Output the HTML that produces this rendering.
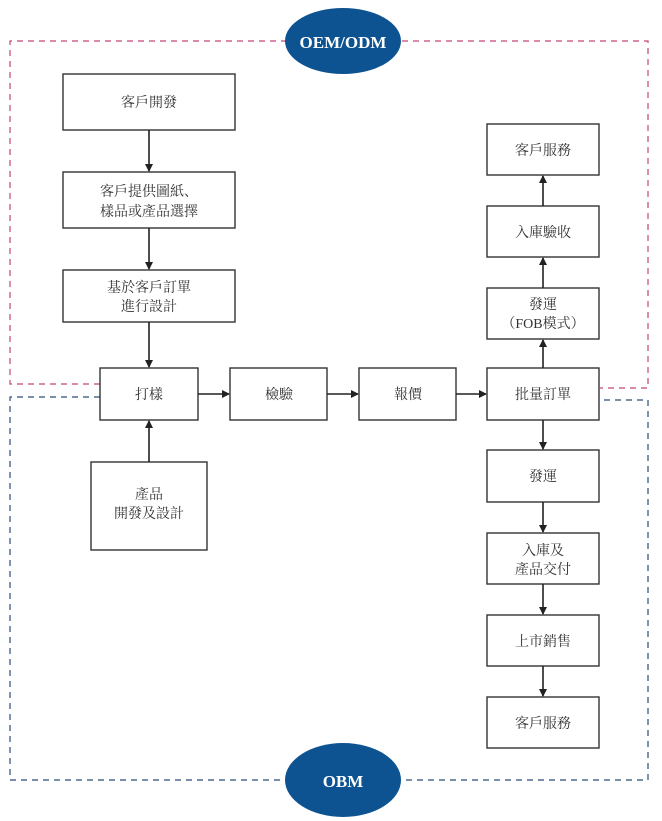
<!DOCTYPE html>
<html><head><meta charset="utf-8"><style>
html,body{margin:0;padding:0;background:#fff;}
svg{display:block;}
text{font-family:"Liberation Serif","Noto Serif CJK SC",serif;font-size:14px;fill:#333;text-anchor:middle;}
.b{fill:#fff;stroke:#333;stroke-width:1.4;}
.l{stroke:#222;stroke-width:1.6;fill:none;}
</style></head><body>
<svg width="662" height="821" viewBox="0 0 662 821" xmlns="http://www.w3.org/2000/svg">
<defs><marker id="a" markerWidth="8" markerHeight="8" refX="7" refY="4" orient="auto" markerUnits="userSpaceOnUse"><path d="M0,0 L8,4 L0,8 z" fill="#222"/></marker></defs>
<!-- pink dashed -->
<path d="M100,384 H10 V41 H648 V388 H600" fill="none" stroke="#c4467a" stroke-width="1.2" stroke-dasharray="6,5"/>
<!-- blue dashed -->
<path d="M100,397 H10 V780 H648 V400 H600" fill="none" stroke="#2b4e78" stroke-width="1.2" stroke-dasharray="6,5"/>
<!-- boxes -->
<rect class="b" x="63" y="74" width="172" height="56"/><text x="149" y="107">客戶開發</text>
<rect class="b" x="63" y="172" width="172" height="56"/><text x="149" y="196">客戶提供圖紙、</text><text x="149" y="216">樣品或產品選擇</text>
<rect class="b" x="63" y="270" width="172" height="52"/><text x="149" y="292">基於客戶訂單</text><text x="149" y="311">進行設計</text>
<rect class="b" x="100" y="368" width="98" height="52"/><text x="149" y="399">打樣</text>
<rect class="b" x="230" y="368" width="97" height="52"/><text x="279" y="399">檢驗</text>
<rect class="b" x="359" y="368" width="97" height="52"/><text x="408" y="399">報價</text>
<rect class="b" x="487" y="368" width="112" height="52"/><text x="543" y="399">批量訂單</text>
<rect class="b" x="487" y="124" width="112" height="51"/><text x="543" y="155">客戶服務</text>
<rect class="b" x="487" y="206" width="112" height="51"/><text x="543" y="237">入庫驗收</text>
<rect class="b" x="487" y="288" width="112" height="51"/><text x="543" y="309">發運</text><text x="543" y="328">（FOB模式）</text>
<rect class="b" x="91" y="462" width="116" height="88"/><text x="149" y="499">產品</text><text x="149" y="518">開發及設計</text>
<rect class="b" x="487" y="450" width="112" height="52"/><text x="543" y="481">發運</text>
<rect class="b" x="487" y="533" width="112" height="51"/><text x="543" y="555">入庫及</text><text x="543" y="574">產品交付</text>
<rect class="b" x="487" y="615" width="112" height="51"/><text x="543" y="646">上市銷售</text>
<rect class="b" x="487" y="697" width="112" height="51"/><text x="543" y="728">客戶服務</text>
<!-- arrows -->
<line class="l" x1="149" y1="130" x2="149" y2="171" marker-end="url(#a)"/>
<line class="l" x1="149" y1="228" x2="149" y2="269" marker-end="url(#a)"/>
<line class="l" x1="149" y1="322" x2="149" y2="367" marker-end="url(#a)"/>
<line class="l" x1="149" y1="462" x2="149" y2="421" marker-end="url(#a)"/>
<line class="l" x1="198" y1="394" x2="229" y2="394" marker-end="url(#a)"/>
<line class="l" x1="327" y1="394" x2="358" y2="394" marker-end="url(#a)"/>
<line class="l" x1="456" y1="394" x2="486" y2="394" marker-end="url(#a)"/>
<line class="l" x1="543" y1="368" x2="543" y2="340" marker-end="url(#a)"/>
<line class="l" x1="543" y1="288" x2="543" y2="258" marker-end="url(#a)"/>
<line class="l" x1="543" y1="206" x2="543" y2="176" marker-end="url(#a)"/>
<line class="l" x1="543" y1="420" x2="543" y2="449" marker-end="url(#a)"/>
<line class="l" x1="543" y1="502" x2="543" y2="532" marker-end="url(#a)"/>
<line class="l" x1="543" y1="584" x2="543" y2="614" marker-end="url(#a)"/>
<line class="l" x1="543" y1="666" x2="543" y2="696" marker-end="url(#a)"/>
<!-- ellipses -->
<ellipse cx="343" cy="41" rx="58" ry="33" fill="#0d5391"/>
<text x="343" y="48" style="fill:#fff;font-weight:bold;font-size:17px">OEM/ODM</text>
<ellipse cx="343" cy="780" rx="58" ry="37" fill="#0d5391"/>
<text x="343" y="787" style="fill:#fff;font-weight:bold;font-size:17px">OBM</text>
</svg>
</body></html>
